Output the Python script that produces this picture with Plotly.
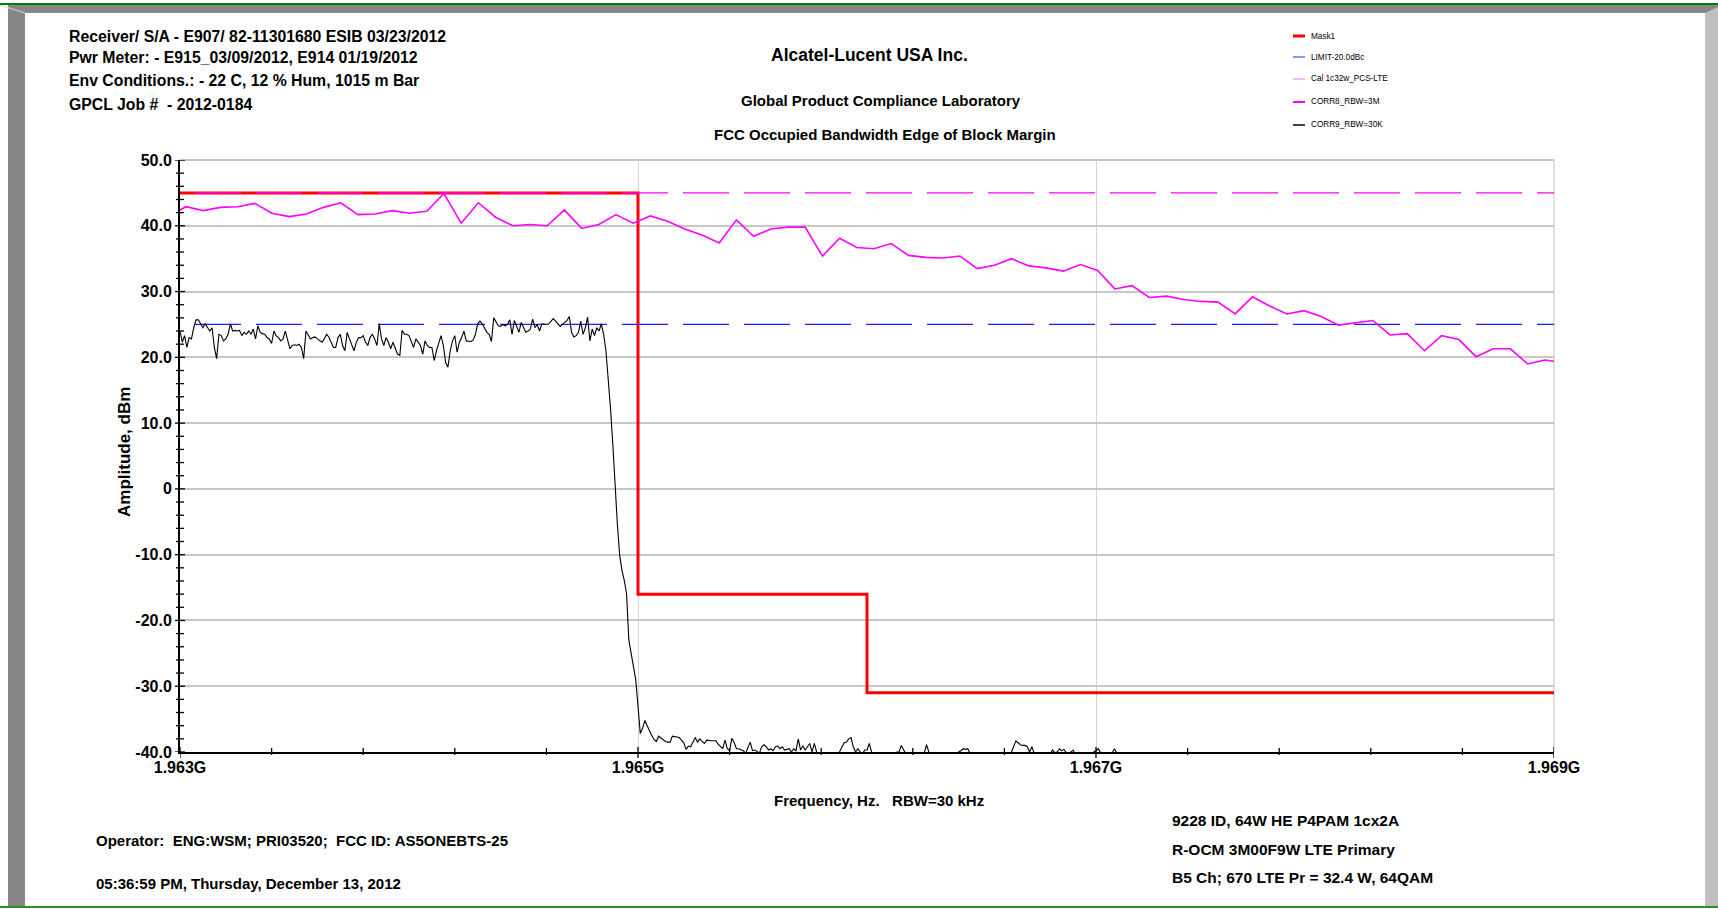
import numpy as np
import plotly.graph_objects as go

# ---------------- data ----------------
FREQ_START_GHZ = 1.963
FREQ_STOP_GHZ = 1.969

mask_freq_ghz = [1.963, 1.965, 1.966, 1.969]
mask_db = [45.0, -16.0, -31.0, -31.0]

limit_db = 25.0        # LIMIT-20.0dBc
ref_db = 45.0          # reference level (dashed magenta)

# CORR8_RBW=3M sweep points
corr8_first_ghz = 1.963026
corr8_last_ghz = 1.968960
corr8_start_db = 42.4
corr8_end_db = 19.4
corr8_db = [
    42.9, 42.3, 42.8, 42.9, 43.4, 41.9, 41.4, 41.8, 42.8, 43.5,
    41.7, 41.8, 42.3, 41.9, 42.2, 44.9, 40.4, 43.5, 41.3, 40.0,
    40.2, 40.0, 42.4, 39.6,
    40.2, 41.7, 40.4, 41.5, 40.7, 39.5, 38.6, 37.4, 40.9, 38.4,
    39.5, 39.8, 39.8, 35.4, 38.1, 36.7, 36.5, 37.3, 35.5, 35.2,
    35.1, 35.4, 33.5, 34.0, 35.0, 33.9, 33.6, 33.1, 34.1, 33.2,
    30.4, 30.9, 29.1, 29.3, 28.8, 28.5,
    28.4, 26.6, 29.2, 27.8, 26.6, 27.1, 26.2, 24.9, 25.3, 25.6,
    23.4, 23.6, 21.0, 23.3, 22.7, 20.1, 21.3, 21.3, 19.0, 19.6,
]

# CORR9_RBW=30K sweep (10 kHz step from 1.963 GHz)
corr9_step_ghz = 0.00001
corr9_db = [
    # in-band
    24.0, 22.3, 23.3, 21.5, 23.0, 22.8, 24.5, 25.7, 25.7, 25.1,
    24.5, 25.1, 24.5, 24.0, 24.5, 21.5, 19.8, 23.5, 23.3, 22.5,
    22.8, 23.5, 25.1, 24.0, 24.1, 24.0, 24.1, 23.3, 23.8, 23.5,
    24.0, 23.5, 24.3, 22.8, 24.8, 23.8, 23.6, 23.5, 23.0, 22.8,
    22.1, 24.0, 23.3, 23.0, 22.5, 22.8, 24.0, 22.5, 21.3, 21.8,
    21.9, 21.8, 22.0, 21.5, 19.8, 24.0, 23.3, 22.8, 23.0, 23.1,
    22.8, 22.5, 22.3, 22.8, 23.5, 23.1, 22.3, 21.5, 21.5, 23.0,
    23.5, 21.8, 21.0, 23.8, 22.8, 21.8, 21.0, 22.3, 23.0, 23.0,
    23.3, 22.3, 21.8, 23.0, 23.5, 22.8, 21.8, 25.1, 22.8, 21.8,
    23.0, 22.3, 21.3, 22.3, 21.3, 20.5, 20.3, 24.1, 23.5, 23.5,
    23.3, 22.5, 21.5,
    22.8, 22.3, 21.8, 20.5, 22.5, 21.8, 21.5, 21.5, 19.5, 21.0,
    22.3, 23.3, 21.8, 19.2, 18.5, 21.0, 22.5, 23.3, 20.8, 22.3,
    23.0, 24.0, 22.5, 22.4, 22.4, 22.6, 23.5, 25.1, 25.5, 25.1,
    24.5, 23.8, 23.5, 22.4, 26.0, 25.3, 24.8, 24.7, 25.0, 24.8,
    25.0, 25.7, 23.5, 25.6, 24.8, 23.8, 25.3, 24.5, 23.8, 24.0,
    24.3, 25.8, 24.5, 25.0, 24.0, 25.1, 25.0, 25.0, 25.1, 25.6,
    25.9, 25.5, 25.0, 24.7, 25.0, 25.3, 25.6, 26.2, 23.8, 23.1,
    23.3, 23.8, 25.5, 23.5, 24.5, 26.1, 22.5, 24.3, 23.3, 24.5,
    24.0, 25.1, 23.5, 21.0,
    # band edge roll-off
    17.0, 12.2, 6.8, 0.0, -5.4, -10.1, -12.4, -13.9, -15.9, -23.0,
    -25.0, -26.8, -29.0, -33.0,
    # noise floor
    -37.2, -36.4, -35.2, -36.0, -36.9, -37.5, -38.1, -38.4, -37.6, -37.9,
    -38.1, -38.4, -38.5, -38.5, -37.6, -37.7, -37.7, -37.8, -38.2, -38.6,
    -39.6, -39.1, -39.2, -38.5, -37.8, -38.5, -38.0, -38.4, -38.7, -38.2,
    -38.3, -38.3, -38.3, -38.3, -38.8, -39.1, -39.5, -38.2, -39.5, -39.8,
    -37.9, -38.6, -39.5, -39.5, -39.6, -39.8, -40.2, -39.2, -38.5, -39.8,
    -39.7, -39.9, -40.2, -39.2, -38.9, -39.2, -39.7, -39.5, -39.8, -39.2,
    -39.1, -39.5, -39.2, -39.7, -39.6, -39.5, -40.0, -39.5, -39.8, -38.0,
    -39.7, -39.1, -39.7, -39.2, -38.7, -40.0, -38.7, -40.0, -40.5, -41.0,
    -40.6, -41.2, -40.8, -41.0, -40.5, -41.2, -40.7, -40.0, -39.2, -38.6,
    -38.5, -38.0, -37.8, -39.2, -40.0, -39.5, -40.0, -40.3, -39.7, -39.7,
    -38.7, -40.0, -40.6, -41.0, -40.8, -41.3, -40.6, -41.1, -40.7, -41.4,
    -40.9, -41.2, -40.0, -40.0, -39.0, -39.7, -40.4, -41.0, -40.6, -41.3,
    -40.8, -41.1, -40.5, -41.2, -40.2, -38.9, -40.0, -40.7, -41.2, -40.5,
    -41.0, -40.8, -41.3, -40.6, -41.0, -40.4, -41.1, -40.7, -40.3, -40.0,
    -39.8, -39.5, -39.6, -39.5, -40.2, -40.8, -41.2, -40.5, -41.0, -40.6,
    -41.3, -40.7, -40.1, -40.9, -41.2, -40.6, -41.0, -40.4, -41.1, -40.8,
    -41.2, -40.5, -40.1, -39.2, -38.3, -38.6, -38.9, -39.0, -39.0, -39.2,
    -40.0, -39.2, -40.2, -40.8, -41.2, -40.6, -41.0, -40.7, -41.1, -40.3,
    -39.7, -40.1, -40.0, -39.5, -39.8, -39.6, -40.1, -40.3, -40.0, -39.7,
    -40.4, -41.0, -40.7, -41.2, -40.6, -41.0, -40.5, -40.2, -40.0, -39.8,
    -39.5, -40.1, -40.6, -41.0, -40.5, -40.8, -40.2, -39.5, -40.1, -40.8,
]

x_tick_vals = [1.963, 1.965, 1.967, 1.969]
x_tick_text = ["1.963G", "1.965G", "1.967G", "1.969G"]
y_tick_vals = [-40, -30, -20, -10, 0, 10, 20, 30, 40, 50]
y_tick_text = ["-40.0", "-30.0", "-20.0", "-10.0", "0", "10.0", "20.0", "30.0", "40.0", "50.0"]

legend_names = ["Mask1", "LIMIT-20.0dBc", "Cal 1c32w_PCS-LTE", "CORR8_RBW=3M", "CORR9_RBW=30K"]
legend_colors = ["#FF0000", "#4848FF", "#FF80FF", "#FF00FF", "#000000"]
legend_widths = [3, 1.2, 1.2, 2, 1.5]

header_left = [
    "Receiver/ S/A - E907/ 82-11301680 ESIB 03/23/2012",
    "Pwr Meter: - E915_03/09/2012, E914 01/19/2012",
    "Env Conditions.: - 22 C, 12 % Hum, 1015 m Bar",
    "GPCL Job #  - 2012-0184",
]
title_lines = [
    "Alcatel-Lucent USA Inc.",
    "Global Product Compliance Laboratory",
    "FCC Occupied Bandwidth Edge of Block Margin",
]
footer_left = [
    "Operator:  ENG:WSM; PRI03520;  FCC ID: AS5ONEBTS-25",
    "05:36:59 PM, Thursday, December 13, 2012",
]
footer_right = [
    "9228 ID, 64W HE P4PAM 1cx2A",
    "R-OCM 3M00F9W LTE Primary",
    "B5 Ch; 670 LTE Pr = 32.4 W, 64QAM",
]
x_title = "Frequency, Hz.   RBW=30 kHz"
y_title = "Amplitude, dBm"

# ---------------- layout geometry (pixels) ----------------
W, H = 1718, 909
PL, PR, PT, PB = 180, 1554, 160, 752


def px(x):
    return (x - PL) / (PR - PL)


def py(y):
    return (PB - y) / (PB - PT)


FONT = "Liberation Sans, Arial, sans-serif"

fig = go.Figure()

# traces
fig.add_trace(go.Scatter(x=mask_freq_ghz, y=mask_db, mode="lines", name=legend_names[0],
                         line=dict(color="#FF0000", width=3, shape="hv")))
fig.add_trace(go.Scatter(x=[FREQ_START_GHZ, FREQ_STOP_GHZ], y=[limit_db, limit_db], mode="lines",
                         name=legend_names[1],
                         line=dict(color="#2020FF", width=1.3, dash="0px,15px,46px,0px")))
fig.add_trace(go.Scatter(x=[FREQ_START_GHZ, FREQ_STOP_GHZ], y=[ref_db, ref_db], mode="lines",
                         name="ref",
                         line=dict(color="#FF00FF", width=1.3, dash="0px,15px,46px,0px")))
corr8_x = [FREQ_START_GHZ] + list(np.linspace(corr8_first_ghz, corr8_last_ghz, len(corr8_db))) + [FREQ_STOP_GHZ]
corr8_y = [corr8_start_db] + corr8_db + [corr8_end_db]
fig.add_trace(go.Scatter(x=corr8_x, y=corr8_y, mode="lines", name=legend_names[3],
                         line=dict(color="#FF00FF", width=1.6)))
corr9_x = [FREQ_START_GHZ + i * corr9_step_ghz for i in range(len(corr9_db))]
fig.add_trace(go.Scatter(x=corr9_x, y=corr9_db, mode="lines", name=legend_names[4],
                         line=dict(color="#000000", width=1.1)))

shapes = []
# plot frame: top and right light border
shapes.append(dict(type="line", xref="paper", yref="paper", x0=0, x1=1, y0=1, y1=1,
                   line=dict(color="#c4c4c4", width=2), layer="below"))
shapes.append(dict(type="line", xref="paper", yref="paper", x0=1, x1=1, y0=0, y1=1,
                   line=dict(color="#d4d4d4", width=1.5), layer="below"))

# y ticks crossing the axis
for v in np.arange(-40, 50.001, 2):
    half = 5 if abs(v % 10) < 1e-9 else 4
    shapes.append(dict(type="line", xref="paper", yref="y", x0=px(PL - half), x1=px(PL + half),
                       y0=float(v), y1=float(v), line=dict(color="#000000", width=1.3)))
# x ticks crossing the axis
for k in range(16):
    v = round(FREQ_START_GHZ + k * 0.0004, 6)
    major = any(abs(v - t) < 1e-9 for t in x_tick_vals)
    up, dn = (5, 6) if major else (4, 3)
    shapes.append(dict(type="line", xref="x", yref="paper", x0=v, x1=v, y0=py(PB + dn), y1=py(PB - up),
                       line=dict(color="#000000", width=1.3)))

# outer page frame
shapes.append(dict(type="path", xref="paper", yref="paper", layer="above",
                   path=(f"M {px(8)} {py(5)} L {px(1718)} {py(5)} L {px(1718)} {py(13)} "
                         f"L {px(25)} {py(13)} L {px(25)} {py(906)} L {px(8)} {py(906)} Z"),
                   fillcolor="#878787", line=dict(width=0)))
shapes.append(dict(type="line", xref="paper", yref="paper", x0=px(0), y0=py(5), x1=px(25), y1=py(13),
                   line=dict(color="#d8d8d8", width=1)))
shapes.append(dict(type="path", xref="paper", yref="paper", layer="above",
                   path=(f"M {px(1705)} {py(13)} L {px(1718)} {py(7)} L {px(1718)} {py(906)} "
                         f"L {px(1705)} {py(906)} Z"),
                   fillcolor="#c0c0c0", line=dict(width=0)))
shapes.append(dict(type="line", xref="paper", yref="paper", x0=px(0), x1=px(1718), y0=py(4), y1=py(4),
                   line=dict(color="#008000", width=2)))
shapes.append(dict(type="line", xref="paper", yref="paper", x0=px(0), x1=px(1718), y0=py(907), y1=py(907),
                   line=dict(color="#2e8b2e", width=2)))

# custom legend
legend_rows_y = [36, 57, 79, 102, 125]
annotations = []
for name, col, lw, yy in zip(legend_names, legend_colors, legend_widths, legend_rows_y):
    shapes.append(dict(type="line", xref="paper", yref="paper", x0=px(1293), x1=px(1305), y0=py(yy), y1=py(yy),
                       line=dict(color=col, width=lw)))
    annotations.append(dict(xref="paper", yref="paper", x=px(1309), y=py(yy), text=name, showarrow=False,
                            xanchor="left", yanchor="middle", font=dict(family=FONT, size=8.2, color="#000")))

# header / footer texts
for txt, yy in zip(header_left, [36, 57, 80, 104]):
    annotations.append(dict(xref="paper", yref="paper", x=px(67), y=py(yy), text=txt, showarrow=False,
                            xanchor="left", yanchor="middle",
                            font=dict(family=FONT, size=15.8, color="#000", weight="bold")))
for txt, xx, yy, sz in zip(title_lines, [870, 881, 885], [55, 100, 134], [17.5, 15, 15]):
    annotations.append(dict(xref="paper", yref="paper", x=px(xx), y=py(yy), text=txt, showarrow=False,
                            xanchor="center", yanchor="middle",
                            font=dict(family=FONT, size=sz, color="#000", weight="bold")))
for txt, yy in zip(footer_left, [841, 883]):
    annotations.append(dict(xref="paper", yref="paper", x=px(94), y=py(yy), text=txt, showarrow=False,
                            xanchor="left", yanchor="middle",
                            font=dict(family=FONT, size=15, color="#000", weight="bold")))
for txt, yy in zip(footer_right, [820, 849, 878]):
    annotations.append(dict(xref="paper", yref="paper", x=px(1170), y=py(yy), text=txt, showarrow=False,
                            xanchor="left", yanchor="middle",
                            font=dict(family=FONT, size=15.5, color="#000", weight="bold")))
annotations.append(dict(xref="paper", yref="paper", x=px(879), y=py(800), text=x_title, showarrow=False,
                        xanchor="center", yanchor="middle",
                        font=dict(family=FONT, size=15, color="#000", weight="bold")))
annotations.append(dict(xref="paper", yref="paper", x=px(124), y=py(452), text=y_title, showarrow=False,
                        xanchor="center", yanchor="middle", textangle=-90,
                        font=dict(family=FONT, size=17, color="#000", weight="bold")))

fig.update_layout(
    width=W, height=H, autosize=False,
    margin=dict(l=PL, r=W - PR, t=PT, b=H - PB, pad=0),
    paper_bgcolor="#ffffff", plot_bgcolor="#ffffff",
    showlegend=False,
    shapes=shapes, annotations=annotations,
    xaxis=dict(range=[FREQ_START_GHZ, FREQ_STOP_GHZ], showline=True, linecolor="#000000", linewidth=2,
               ticks="", tickvals=x_tick_vals, ticktext=x_tick_text, showgrid=True, gridcolor="#d4d4d4",
               gridwidth=1, zeroline=False, ticklabelstandoff=0,
               tickfont=dict(family=FONT, size=16, color="#000", weight="bold")),
    yaxis=dict(range=[-40, 50], showline=True, linecolor="#000000", linewidth=2,
               ticks="", tickvals=y_tick_vals, ticktext=y_tick_text, showgrid=True, gridcolor="#c8c8c8",
               gridwidth=1.5, zeroline=False, ticklabelstandoff=3,
               tickfont=dict(family=FONT, size=16, color="#000", weight="bold")),
)

fig.write_html("out.html", config={"displayModeBar": False},
               post_script="document.body.style.margin='0px';document.body.style.overflow='hidden';")
